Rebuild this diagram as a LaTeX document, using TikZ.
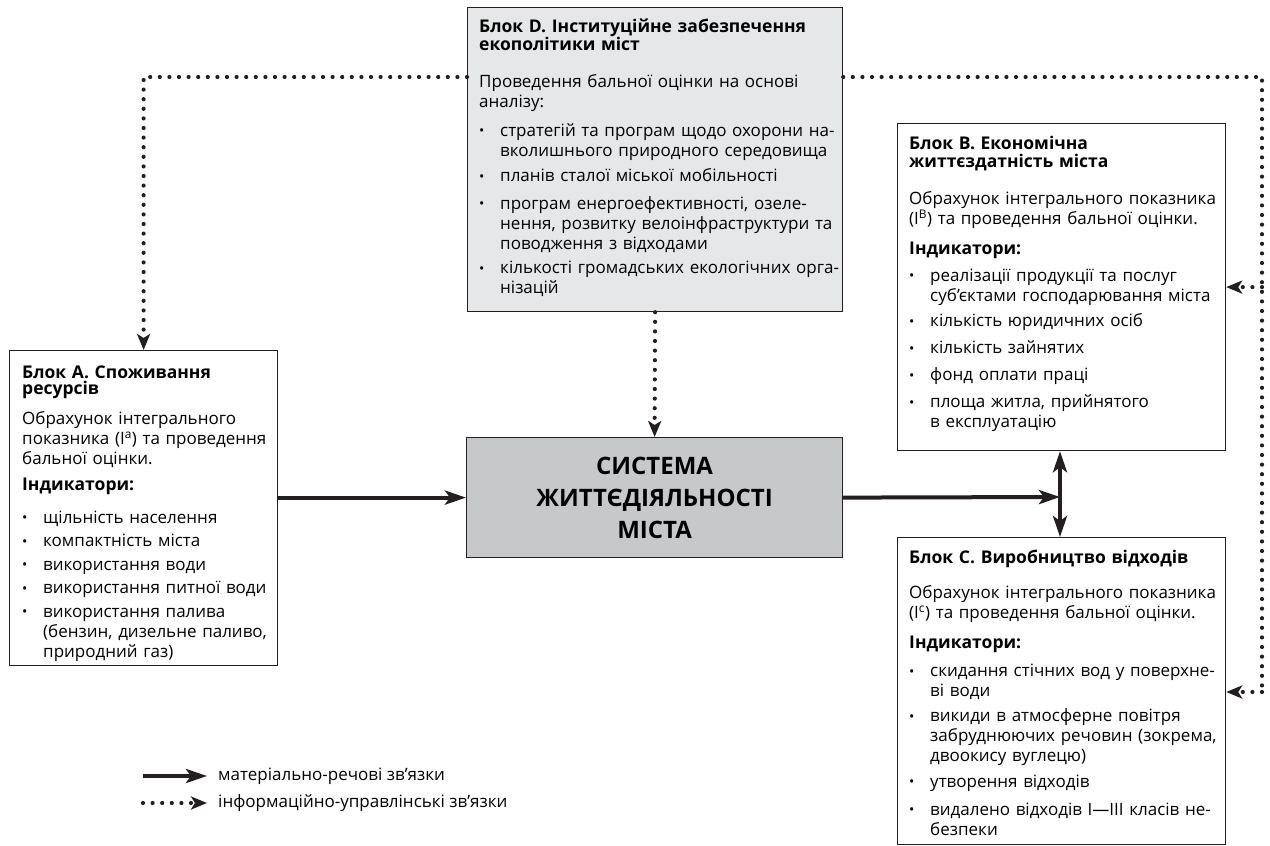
\documentclass[tikz,border=0pt]{standalone}
\usepackage{fontspec}
\setmainfont{Open Sans}
\usetikzlibrary{arrows.meta,calc}
\definecolor{lightbox}{HTML}{E6E7E8}
\definecolor{midbox}{HTML}{C7C8CA}
\definecolor{ink}{HTML}{231F20}
\newlength\hang
\setlength\hang{21pt}
\newlength\itemgap
\newlength\itemw
\newcommand\bulletsym{\fontsize{14}{14}\selectfont\raisebox{0.5pt}{•}}
\newcommand\bitem[1]{\par\vspace{\itemgap}\noindent\makebox[\hang][l]{\bulletsym}\parbox[t]{\itemw}{\raggedright #1}\par}
\newcommand\jline[2]{\makebox[#1][s]{#2}}
\newcommand\tfont{\fontsize{17.5}{18}\selectfont\bfseries}
\begin{document}
\begin{tikzpicture}[x=1pt,y=-1pt,
  box/.style={draw=ink, line width=1.2pt, anchor=north west, inner sep=0pt},
  txt/.style={anchor=north west, inner sep=0pt, align=left, font=\fontsize{17}{20}\selectfont},
  mat/.style={draw=ink, line width=4pt, -{Stealth[length=21pt,width=14pt,inset=5pt]}},
  matboth/.style={draw=ink, line width=4pt, {Stealth[length=21pt,width=14pt,inset=5pt]}-{Stealth[length=21pt,width=14pt,inset=5pt]}},
  info/.style={draw=ink, line width=4.2pt, line cap=round, dash pattern=on 0pt off 9.6pt, -{Stealth[length=16pt,width=13pt,inset=4pt]}},
  infoline/.style={draw=ink, line width=4.2pt, line cap=round, dash pattern=on 0pt off 9.6pt}]
\useasboundingbox (0,0) rectangle (1270,846);

% boxes
\node[box, fill=lightbox, minimum width=375pt, minimum height=304pt] (D) at (467,7) {};
\node[box, fill=white, minimum width=268pt, minimum height=315pt] (A) at (9,350) {};
\node[box, fill=white, minimum width=328pt, minimum height=327pt] (B) at (897,123) {};
\node[box, fill=white, minimum width=328pt, minimum height=307pt] (C) at (897,537) {};
\node[box, fill=midbox, minimum width=376pt, minimum height=120pt, align=center,
  font=\fontsize{24}{32}\selectfont\bfseries] (S) at (466,437) {СИСТЕМА\\ЖИТТЄДІЯЛЬНОСТІ\\МІСТА};

% block D text
\setlength\itemgap{7.5pt}\setlength\itemw{340pt}
\node[txt, text width=380pt] (Dt) at (479,19) {%
{\tfont Блок D. Інституційне забезпечення\\ екополітики міст\par}
\vspace{17pt}
Проведення бальної оцінки на основі\\ аналізу:\par
\vspace{1pt}
\bitem{\jline{335pt}{стратегій та програм щодо охорони на-}\\ вколишнього природного середовища}
\bitem{планів сталої міської мобільності}
\bitem{\jline{335pt}{програм енергоефективності, озеле-}\\ \jline{335pt}{нення, розвитку велоінфраструктури та}\\ поводження з відходами}
\bitem{\jline{335pt}{кількості громадських екологічних орга-}\\ нізацій}};

% block A text
\setlength\itemgap{3.5pt}\setlength\itemw{280pt}
\node[txt, text width=300pt] (At) at (22,366) {%
{\tfont\fontsize{17.5}{16}\selectfont Блок А. Споживання\\ ресурсів\par}
\vspace{10pt}
Обрахунок інтегрального\\ показника (I\textsuperscript{а}) та проведення\\ бальної оцінки.\par
\vspace{8pt}
{\tfont Індикатори:\par}
\vspace{9pt}
\bitem{щільність населення}
\bitem{компактність міста}
\bitem{використання води}
\bitem{використання питної води}
\bitem{використання палива\\ (бензин, дизельне паливо,\\ природний газ)}};

% block B text
\setlength\itemgap{7pt}\setlength\itemw{320pt}
\node[txt, text width=340pt] (Bt) at (909,136) {%
{\tfont Блок В. Економічна\\ життєздатність міста\par}
\vspace{17pt}
Обрахунок інтегрального показника\\ (I\textsuperscript{В}) та проведення бальної оцінки.\par
\vspace{12pt}
{\tfont Індикатори:\par}
\bitem{реалізації продукції та послуг\\ суб’єктами господарювання міста}
\bitem{кількість юридичних осіб}
\bitem{кількість зайнятих}
\bitem{фонд оплати праці}
\bitem{площа житла, прийнятого\\ в експлуатацію}};

% block C text
\setlength\itemgap{8pt}\setlength\itemw{320pt}
\node[txt, text width=340pt] (Ct) at (909,550) {%
{\tfont Блок С. Виробництво відходів\par}
\vspace{15pt}
Обрахунок інтегрального показника\\ (I\textsuperscript{с}) та проведення бальної оцінки.\par
\vspace{12pt}
{\tfont Індикатори:\par}
\bitem{скидання стічних вод у поверхне-\\ ві води}
\bitem{викиди в атмосферне повітря\\ забруднюючих речовин (зокрема,\\ двоокису вуглецю)}
\bitem{утворення відходів}
\bitem{видалено відходів I—III класів не-\\ безпеки}};

% coordinates
\coordinate (T) at (0,77);
\coordinate (RX) at (1262,0);
\coordinate (CY) at (0,692);
\coordinate (J) at (1060,497);

% information links
\draw[info] (D.west |- T) -| (A.north);
\draw[infoline] (D.east |- T) -- (RX |- T) -- (RX |- CY);
\draw[info] (RX |- CY) -- (C.east |- CY);
\draw[info] (RX |- B.east) -- (B.east);
\draw[info] (D.south) -- (S.north);

% material links
\draw[mat] (A.east |- S.west) -- (S.west);
\draw[mat] (S.east) -- (J);
\draw[matboth] (B.south -| J) -- (C.north -| J);

% legend
\coordinate (La1) at (143,776);
\coordinate (La2) at (207,776);
\coordinate (Lb1) at (143,803);
\coordinate (Lb2) at (207,803);
\draw[mat] (La1) -- (La2);
\draw[info] (Lb1) -- (Lb2);
\node[txt, anchor=west] (Lat) at (218,776) {матеріально-речові зв’язки};
\node[txt, anchor=west] (Lbt) at (218,803) {інформаційно-управлінські зв’язки};
\end{tikzpicture}
\end{document}
